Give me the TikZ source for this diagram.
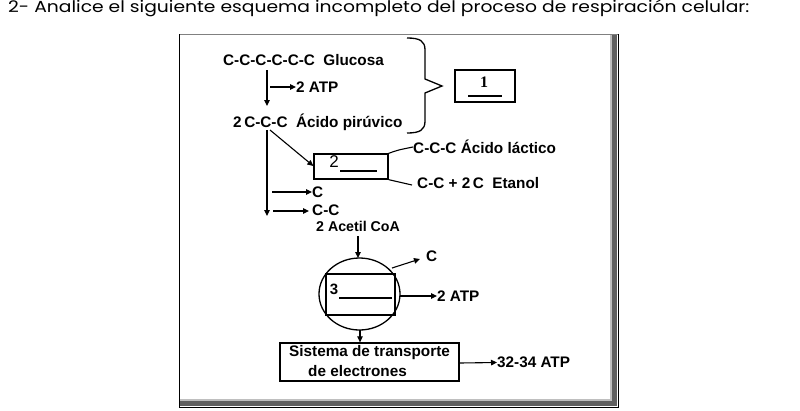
\documentclass[tikz,border=0pt]{standalone}
\usepackage{fontspec}
\setmainfont{Liberation Sans}
\newfontfamily\titlefont{Poppins}
\newfontfamily\serifnum{Liberation Serif}
\usetikzlibrary{arrows.meta}
\tikzset{
  lbl/.style={inner sep=0pt, anchor=west, font=\fontsize{15.3}{17}\selectfont\bfseries},
  arr/.style={-{Triangle[length=6pt,width=5.5pt]}, line width=1.1pt},
  ln/.style={line width=1.1pt},
  boxx/.style={draw, line width=1.3pt, inner sep=0pt}
}
\begin{document}
\begin{tikzpicture}[x=1pt,y=-1pt]
\useasboundingbox (0,0) rectangle (800,410);
% title
\node[inner sep=0pt, anchor=base west, xscale=1.17, font=\titlefont\fontsize{16}{18}\selectfont] (title) at (8,12) {2- Analice el siguiente esquema incompleto del proceso de respiración celular:};
% frame
\fill[white] (179,34) rectangle (618,407);
\fill[gray!75!black] (180,401) rectangle (617,406);
\fill[gray!75!black] (612,35) rectangle (617,406);
\draw[gray!50, line width=1.2pt] (611,35) -- (611,400) -- (180,400);
\draw[gray, line width=1pt] (179,34.5) -- (618,34.5);
\draw[black, line width=1.2pt] (179.5,34) -- (179.5,407.5) -- (618.5,407.5) -- (618.5,34);
% glycolysis
\node[lbl] (glu) at (223,60) {C-C-C-C-C-C\ \ Glucosa};
\coordinate (g1) at (267,70);
\node[lbl] (pir) at (233,122) {2\,C-C-C\ \ Ácido pirúvico};
\draw[arr] (g1) -- (267,106);
\coordinate (atp0) at (270,87);
\node[lbl] (atp1) at (296,87) {2 ATP};
\draw[arr] (atp0) -- (atp1.west);
% brace
\draw[line width=1.3pt] (407,38) .. controls (420,38) and (425,41) .. (425,50) -- (425,79) -- (442,86) -- (425,93) -- (425,121) .. controls (425,130) and (420,133) .. (407,133);
% box 1
\node[boxx, minimum width=60pt, minimum height=32pt] (b1) at (485,86) {};
\node[inner sep=0pt, font=\serifnum\fontsize{16}{17}\selectfont\bfseries] (n1) at (484,82) {1};
\draw[line width=1.3pt] (468,96) -- (502,96);
% fermentation
\node[boxx, minimum width=74pt, minimum height=25pt] (b2) at (351,166.5) {};
\node[inner sep=0pt, font=\fontsize{17}{18}\selectfont] (n2) at (334,161.5) {2};
\draw[line width=1.3pt] (340,171) -- (377,171);
\coordinate (p1) at (270,130);
\draw[arr] (p1) -- (b2.west |- 0,166);
\node[lbl] (lac) at (413,147) {C-C-C Ácido láctico};
\node[lbl] (eta) at (417,183.5) {C-C + 2\,C\ \ Etanol};
\draw[ln] (b2.north east) .. controls (398,150) .. (lac.west);
\draw[ln] (b2.south east) -- (412,185);
% link reaction
\coordinate (p2) at (267,130);
\draw[arr] (p2) -- (267,216);
\node[lbl] (c1) at (312,192) {C};
\coordinate (c1s) at (272,192);
\draw[arr] (c1s) -- (c1.west);
\node[lbl] (cc) at (312,210) {C-C};
\coordinate (ccs) at (273,211);
\draw[arr] (ccs) -- (309,211);
\node[lbl, font=\fontsize{14.2}{15}\selectfont\bfseries] (acet) at (316,226) {2 Acetil CoA};
% Krebs
\draw[line width=1.3pt] (359.5,294) ellipse [x radius=40.5pt, y radius=36pt];
\coordinate (kc) at (359.5,294);
\node[boxx, minimum width=69pt, minimum height=41pt] (b3) at (360.5,294.5) {};
\node[inner sep=0pt, font=\fontsize{15}{16}\selectfont\bfseries] (n3) at (334,289) {3};
\draw[ln] (339,298) -- (392,298);
\coordinate (acb) at (358,236);
\draw[arr] (acb) -- (358,258);
\coordinate (ks) at (392,268);
\node[lbl] (c2) at (426,256) {C};
\draw[arr] (ks) -- (420,259);
\coordinate (kr) at (400,296);
\node[lbl] (atp2) at (437,296) {2 ATP};
\draw[arr] (kr) -- (atp2.west);
% ETS
\node[boxx, minimum width=179pt, minimum height=38pt] (ets) at (369.5,362) {};
\node[lbl] (ets1) at (289,353) {Sistema de transporte};
\node[lbl] (ets2) at (308,371.5) {de electrones};
\coordinate (kb) at (360,330);
\draw[arr] (kb) -- (ets.north -| kb);
\node[lbl] (atp3) at (497,362.5) {32-34 ATP};
\draw[arr] (ets.east |- 0,363) -- (atp3.west);
\end{tikzpicture}
\end{document}
